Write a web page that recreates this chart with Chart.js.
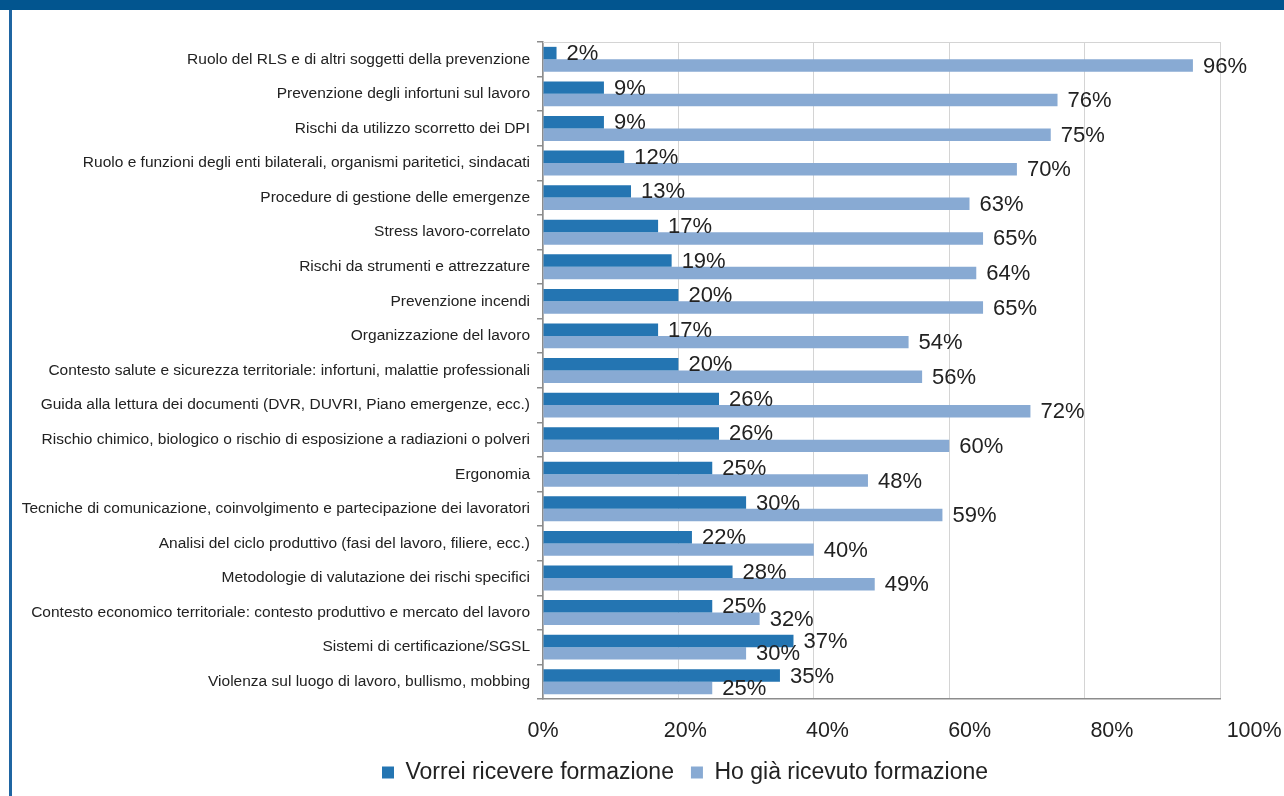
<!DOCTYPE html>
<html lang="it">
<head>
<meta charset="utf-8">
<title>Formazione</title>
<script src="https://cdn.jsdelivr.net/npm/chart.js@4.4.1/dist/chart.umd.min.js"></script>
<style>
  html, body { margin: 0; padding: 0; background: #fff; }
  .wrap { position: relative; width: 1284px; height: 796px; overflow: hidden; }
  .band { position: absolute; left: 0; top: 0; width: 1284px; height: 10px; background: #02558f; }
  .edge { position: absolute; left: 9px; top: 10px; width: 3px; height: 786px; background: #1f65a2; }
  canvas { position: absolute; left: 0; top: 0; }
</style>
</head>
<body>
<div class="wrap">
  <canvas id="chart" width="1284" height="796"></canvas>
  <div class="band"></div>
  <div class="edge"></div>
</div>
<script>
// categories, top to bottom
const categories = [
  "Ruolo del RLS e di altri soggetti della prevenzione",
  "Prevenzione degli infortuni sul lavoro",
  "Rischi da utilizzo scorretto dei DPI",
  "Ruolo e funzioni degli enti bilaterali, organismi paritetici, sindacati",
  "Procedure di gestione delle emergenze",
  "Stress lavoro-correlato",
  "Rischi da strumenti e attrezzature",
  "Prevenzione incendi",
  "Organizzazione del lavoro",
  "Contesto salute e sicurezza territoriale: infortuni, malattie professionali",
  "Guida alla lettura dei documenti (DVR, DUVRI, Piano emergenze, ecc.)",
  "Rischio chimico, biologico o rischio di esposizione a radiazioni o polveri",
  "Ergonomia",
  "Tecniche di comunicazione, coinvolgimento e partecipazione dei lavoratori",
  "Analisi del ciclo produttivo (fasi del lavoro, filiere, ecc.)",
  "Metodologie di valutazione dei rischi specifici",
  "Contesto economico territoriale: contesto produttivo e mercato del lavoro",
  "Sistemi di certificazione/SGSL",
  "Violenza sul luogo di lavoro, bullismo, mobbing"
]

const vorrei = [2, 9, 9, 12, 13, 17, 19, 20, 17, 20, 26, 26, 25, 30, 22, 28, 25, 37, 35]
const giaRicevuto = [96, 76, 75, 70, 63, 65, 64, 65, 54, 56, 72, 60, 48, 59, 40, 49, 32, 30, 25]

const seriesNames = ["Vorrei ricevere formazione", "Ho già ricevuto formazione"]
const tickValues = [0, 20, 40, 60, 80, 100]

const FONT = "'Liberation Sans', Arial, sans-serif"
const TEXT = "#222222"

// value labels to the right of every bar
const valueLabels = {
  id: "valueLabels",
  afterDatasetsDraw(chart) {
    const ctx = chart.ctx
    ctx.save()
    ctx.font = "22px " + FONT
    ctx.fillStyle = TEXT
    ctx.textAlign = "left"
    ctx.textBaseline = "middle"
    chart.data.datasets.forEach((ds, i) => {
      chart.getDatasetMeta(i).data.forEach((bar, j) => {
        ctx.fillText(ds.data[j] + "%", bar.x + 10, bar.y + 1)
      })
    })
    ctx.restore()
  },
}

// the legend in the original sits right of the canvas centre
const legendPlace = {
  id: "legendPlace",
  afterLayout(chart) {
    const lg = chart.legend
    const h = lg.bottom - lg.top
    lg.left = 86
    lg.right = 1284
    lg.top = 744
    lg.bottom = 744 + h
  },
}

new Chart(document.getElementById("chart"), {
  type: "bar",
  data: {
    labels: categories,
    datasets: [
      {
        label: seriesNames[0],
        data: vorrei,
        backgroundColor: "#2475b2",
        categoryPercentage: 0.72,
        barPercentage: 1,
      },
      {
        label: seriesNames[1],
        data: giaRicevuto,
        backgroundColor: "#88aad3",
        categoryPercentage: 0.72,
        barPercentage: 1,
      },
    ],
  },
  options: {
    indexAxis: "y",
    responsive: false,
    animation: false,
    layout: {
      padding: { left: 0, right: 64, top: 42, bottom: 4 },
    },
    plugins: {
      legend: {
        position: "bottom",
        labels: {
          color: TEXT,
          font: { family: FONT, size: 23 },
          boxWidth: 12,
          boxHeight: 12,
          padding: 17,
        },
      },
      tooltip: { enabled: false },
    },
    scales: {
      y: {
        afterFit: (s) => { s.width = 543 },
        grid: {
          display: true,
          drawOnChartArea: false,
          drawTicks: true,
          tickLength: 6,
          color: "#8c8c8c",
          lineWidth: 1.5,
        },
        border: { display: true, color: "#8c8c8c", width: 1.5 },
        ticks: {
          color: TEXT,
          font: { family: FONT, size: 15.5 },
          padding: 7,
          autoSkip: false,
        },
      },
      x: {
        min: 0,
        max: 100,
        weight: 0,
        afterFit: (s) => { s.height = 0 },
        grid: { color: "#d4d4d4", lineWidth: 1, drawTicks: false },
        border: { display: true, color: "#8c8c8c", width: 1.5 },
        ticks: { display: false, stepSize: 20 },
      },
      // tick labels sit a little wider apart than the grid in the original
      xLabels: {
        type: "linear",
        axis: "x",
        position: "bottom",
        weight: 1,
        min: 0,
        max: 95.2,
        afterBuildTicks: (s) => { s.ticks = tickValues.map((v) => ({ value: v })) },
        afterFit: (s) => { s.height = 43; s.paddingLeft = 0; s.paddingRight = 0 },
        grid: { display: false },
        border: { display: false },
        ticks: {
          autoSkip: false,
          maxRotation: 0,
          color: TEXT,
          font: { family: FONT, size: 21.5 },
          padding: 11,
          callback: (v) => v + "%",
        },
      },
      xTop: {
        type: "linear",
        axis: "x",
        position: "top",
        min: 0,
        max: 100,
        afterFit: (s) => { s.height = 0 },
        grid: { display: false },
        border: { display: true, color: "#d4d4d4", width: 1 },
        ticks: { display: false },
      },
    },
  },
  plugins: [valueLabels, legendPlace],
})
</script>
</body>
</html>
